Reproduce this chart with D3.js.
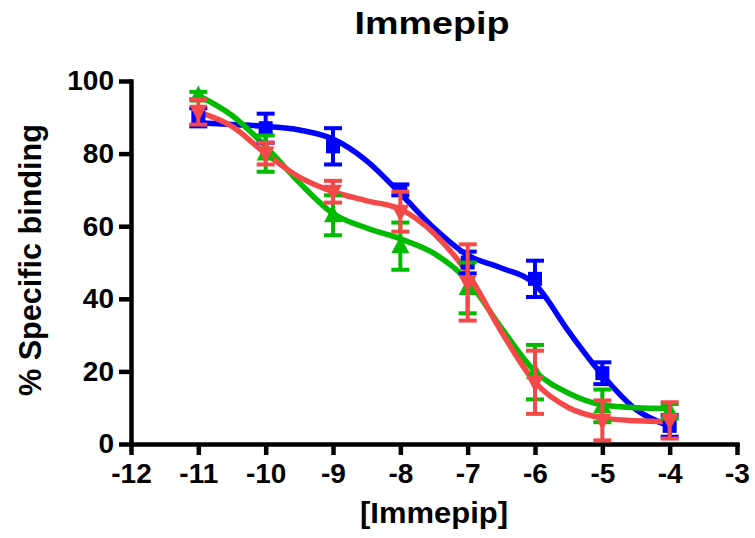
<!DOCTYPE html>
<html>
<head>
<meta charset="utf-8">
<script src="https://cdn.jsdelivr.net/npm/d3@7"></script>
<style>
  body { margin: 0; background: #fff; }
  text { font-family: "Liberation Sans", Arial, sans-serif; font-weight: bold; fill: #000; }
</style>
</head>
<body>
<div id="chart"></div>
<script>
// log [Immepip] of each measured point
var doses = [-11, -10, -9, -8, -7, -6, -5, -4];

// mean % specific binding and error (SEM) for each series
var blueMean  = [90, 87, 82, 70, 50, 45.5, 19.5, 5];
var blueErr   = [2.5, 4, 5, 1.5, 3, 5, 3, 3];
var greenMean = [96, 80, 63, 54.5, 43, 19.8, 10.5, 9];
var greenErr  = [1, 5, 5.5, 6.5, 7, 7.5, 4.5, 2];
var redMean   = [91.5, 80, 69.5, 64, 44.5, 17, 6.5, 6.5];
var redErr    = [3.5, 3, 3, 5.5, 10.5, 8.7, 5.5, 5];

// fitted curves, every half log unit
var curveX     = [-11, -10.5, -10, -9.5, -9, -8.5, -8, -7.5, -7, -6.5, -6, -5.5, -5, -4.5, -4];
var blueCurve  = [88.5, 88, 87.5, 86.5, 84, 78, 69, 59.5, 52, 48.5, 44, 31, 19, 9.5, 5];
var greenCurve = [96, 90.5, 82, 72, 63.5, 59.5, 56.5, 52.5, 45, 32, 20, 14, 10.8, 10, 9.8];
var redCurve   = [91.5, 87.5, 80, 73.5, 69.5, 67, 64.7, 58, 47, 31, 17, 10, 7.2, 6.4, 6.1];

var xTicks = [-12, -11, -10, -9, -8, -7, -6, -5, -4, -3];
var yTicks = [0, 20, 40, 60, 80, 100];

var series = [
    { name: "blue",  color: "#0000ff", shape: "square", mean: blueMean,  err: blueErr,  curve: blueCurve },
    { name: "green", color: "#00bb00", shape: "up",     mean: greenMean, err: greenErr, curve: greenCurve },
    { name: "red",   color: "#f54848", shape: "down",   mean: redMean,   err: redErr,   curve: redCurve }
];

var svg = d3.select("#chart")
    .append("svg")
    .attr("width", 755)
    .attr("height", 538);

var x = d3.scaleLinear().domain([-12, -3]).range([131, 737]);
var y = d3.scaleLinear().domain([0, 100]).range([444, 81]);

// axes
var xAxis = svg.append("g")
    .attr("transform", "translate(0,444)")
    .call(d3.axisBottom(x).tickValues(xTicks).tickSize(11).tickSizeOuter(0).tickPadding(8)
        .tickFormat(function(d) { return String(d); }));

var yAxis = svg.append("g")
    .attr("transform", "translate(131,0)")
    .call(d3.axisLeft(y).tickValues(yTicks).tickSize(12).tickSizeOuter(0).tickPadding(5)
        .tickFormat(function(d) { return String(d); }));

[xAxis, yAxis].forEach(function(a) {
    a.select(".domain").attr("stroke", "#000").attr("stroke-width", 4.5).attr("stroke-linecap", "square");
    a.selectAll(".tick line").attr("stroke", "#000").attr("stroke-width", 4.5);
    a.selectAll(".tick text")
        .style("font-size", "28px")
        .style("font-family", "'Liberation Sans', Arial, sans-serif")
        .style("font-weight", "bold")
        .attr("fill", "#000");
});

// curves
var line = d3.line()
    .x(function(d) { return x(d[0]); })
    .y(function(d) { return y(d[1]); })
    .curve(d3.curveMonotoneX);

series.forEach(function(s) {
    svg.append("path")
        .datum(curveX.map(function(v, i) { return [v, s.curve[i]]; }))
        .attr("fill", "none")
        .attr("stroke", s.color)
        .attr("stroke-width", 5.5)
        .attr("d", line);
});

// error bars and markers
function markerPath(shape) {
    if (shape == "square") return "M-7,-7H7V7H-7Z";
    if (shape == "up") return "M0,-10L9,7L-9,7Z";
    return "M0,10L9,-7L-9,-7Z";
}

series.forEach(function(s) {
    var pts = doses.map(function(d, i) {
        return { x: d, v: s.mean[i], e: s.err[i] };
    });
    var g = svg.append("g").attr("class", s.name);

    var eb = g.selectAll("g.err")
        .data(pts)
        .enter()
        .append("g")
        .attr("class", "err")
        .attr("stroke", s.color)
        .attr("stroke-width", 4);

    eb.append("line")
        .attr("x1", function(d) { return x(d.x); })
        .attr("x2", function(d) { return x(d.x); })
        .attr("y1", function(d) { return y(d.v - d.e); })
        .attr("y2", function(d) { return y(d.v + d.e); });

    eb.append("line")
        .attr("x1", function(d) { return x(d.x) - 9; })
        .attr("x2", function(d) { return x(d.x) + 9; })
        .attr("y1", function(d) { return y(d.v + d.e); })
        .attr("y2", function(d) { return y(d.v + d.e); });

    eb.append("line")
        .attr("x1", function(d) { return x(d.x) - 9; })
        .attr("x2", function(d) { return x(d.x) + 9; })
        .attr("y1", function(d) { return y(d.v - d.e); })
        .attr("y2", function(d) { return y(d.v - d.e); });

    g.selectAll("path.mark")
        .data(pts)
        .enter()
        .append("path")
        .attr("class", "mark")
        .attr("d", markerPath(s.shape))
        .attr("transform", function(d) {
            return "translate(" + x(d.x) + "," + y(d.v) + ")";
        })
        .attr("fill", s.color);
});

// titles
svg.append("text")
    .attr("x", 432)
    .attr("y", 34)
    .attr("text-anchor", "middle")
    .attr("textLength", 155)
    .attr("lengthAdjust", "spacingAndGlyphs")
    .style("font-size", "32px")
    .text("Immepip");

svg.append("text")
    .attr("x", 434)
    .attr("y", 523)
    .attr("text-anchor", "middle")
    .attr("textLength", 148)
    .attr("lengthAdjust", "spacingAndGlyphs")
    .style("font-size", "30px")
    .text("[Immepip]");

svg.append("text")
    .attr("transform", "translate(41,260) rotate(-90)")
    .attr("text-anchor", "middle")
    .attr("textLength", 272)
    .attr("lengthAdjust", "spacingAndGlyphs")
    .style("font-size", "32px")
    .text("% Specific binding");
</script>
</body>
</html>
